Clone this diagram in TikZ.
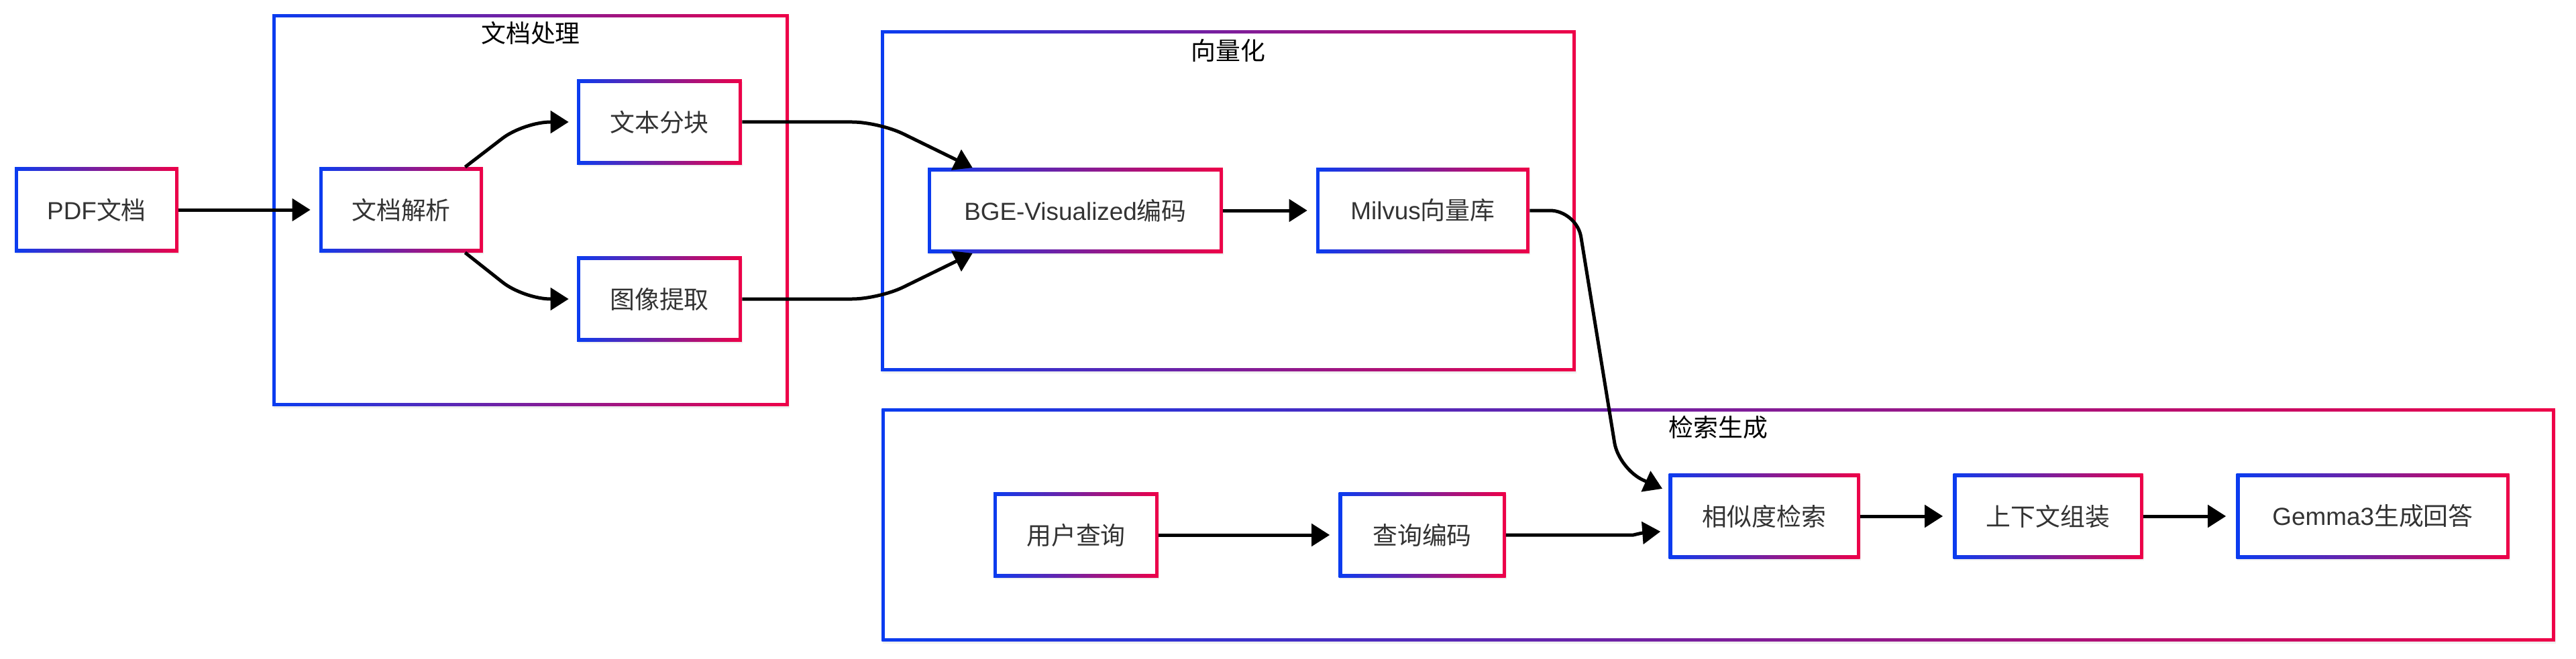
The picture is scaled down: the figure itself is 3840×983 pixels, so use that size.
\documentclass[tikz,border=0pt]{standalone}
\usepackage{fontspec}
\setmainfont{Noto Sans CJK SC}
\newfontfamily\lat{Liberation Sans}
\usepackage{tikz}
\usetikzlibrary{arrows.meta,calc,shadows}

\definecolor{gblue}{RGB}{10,60,240}
\definecolor{gred}{RGB}{238,0,72}
\definecolor{txtgray}{RGB}{51,51,51}

\tikzset{
  gradborder/.style={rectangle, inner sep=0pt, fill=white,
    drop shadow={shadow xshift=0.03cm, shadow yshift=-0.06cm, opacity=0.12},
    path picture={
      \shade[left color=gblue, right color=gred]
        (path picture bounding box.south west) rectangle (path picture bounding box.north east);
      \fill[white]
        ([shift={(0.1cm,0.1cm)}]path picture bounding box.south west) rectangle
        ([shift={(-0.1cm,-0.1cm)}]path picture bounding box.north east);
    }},
  box/.style={gradborder, minimum height=2.54cm, text=txtgray, font=\fontsize{21}{25}\selectfont},
  grp/.style={gradborder},
  grptitle/.style={text=black, font=\fontsize{21}{25}\selectfont},
  flow/.style={line width=0.1cm, rounded corners=0.8cm,
    -{Triangle[length=0.54cm,width=0.66cm]}}
}

\begin{document}
\begin{tikzpicture}[x=0.02cm, y=-0.02cm]
  \useasboundingbox (0,0) rectangle (3840,983);

  % 分组
  \node[grp, minimum width=15.4cm, minimum height=11.7cm] (g1) at (791,313.5) {};
  \node[grp, minimum width=20.72cm, minimum height=10.18cm] (g2) at (1831,299.5) {};
  \node[grp, minimum width=49.9cm, minimum height=6.96cm] (g3) at (2561.5,783) {};
  \node[grptitle] (t1) at ($(g1.north)+(0,29)$) {文档处理};
  \node[grptitle] (t2) at ($(g2.north)+(0,31)$) {向量化};
  \node[grptitle] (t3) at ($(g3.north)+(0,29)$) {检索生成};

  % 文档处理
  \node[box, minimum width=4.88cm] (pdf) at (144,313) {{\lat PDF}文档};
  \node[box, minimum width=4.88cm] (parse) at (598,313) {文档解析};
  \node[box, minimum width=4.92cm] (chunk) at (983,182) {文本分块};
  \node[box, minimum width=4.92cm] (img) at (983,446) {图像提取};

  % 向量化
  \node[box, minimum width=8.8cm] (bge) at (1603,314) {{\lat BGE-Visualized}编码};
  \node[box, minimum width=6.36cm] (milvus) at (2121,314) {{\lat Milvus}向量库};

  % 检索生成
  \node[box, minimum width=4.92cm] (query) at (1604,798) {用户查询};
  \node[box, minimum width=4.98cm] (qenc) at (2120,798) {查询编码};
  \node[box, minimum width=5.7cm] (sim) at (2630,770) {相似度检索};
  \node[box, minimum width=5.66cm] (ctx) at (3053,770) {上下文组装};
  \node[box, minimum width=8.14cm] (gemma) at (3537,770) {{\lat Gemma3}生成回答};

  % 连线
  \draw[flow, shorten >=0.26cm] (pdf) -- (parse);
  \draw[flow, shorten >=0.24cm] ($(parse.north east)+(-27,0)$) -- ($(chunk.west)+(-79,0)$) -- (chunk.west);
  \draw[flow, shorten >=0.24cm] ($(parse.south east)+(-27,0)$) -- ($(img.west)+(-79,0)$) -- (img.west);
  \draw[flow] (chunk.east) -- ($(chunk.east)+(204,0)$) -- ($(bge.north west)+(67,0)$);
  \draw[flow] (img.east) -- ($(img.east)+(204,0)$) -- ($(bge.south west)+(67,0)$);
  \draw[flow, shorten >=0.26cm] (bge) -- (milvus);
  \draw[flow, shorten >=0.2cm] (milvus.east) -- ($(milvus.east)+(70,0)$) -- ($(sim.west)+(-74,-70)$) -- ($(sim.west)+(0,-37)$);
  \draw[flow, shorten >=0.26cm] (query) -- (qenc);
  \draw[flow, shorten >=0.24cm] (qenc.east) -- ($(qenc.east)+(150,0)$)
    .. controls +(40,0) and +(-40,3) .. ($(sim.west)+(0,22)$);
  \draw[flow, shorten >=0.3cm] (sim) -- (ctx);
  \draw[flow, shorten >=0.3cm] (ctx) -- (gemma);
\end{tikzpicture}
\end{document}
